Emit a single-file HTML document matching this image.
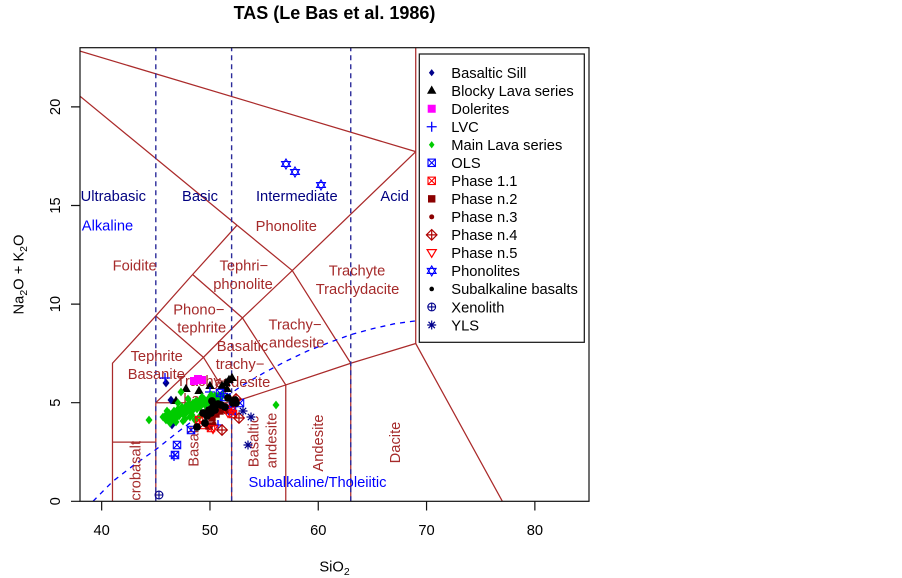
<!DOCTYPE html>
<html><head><meta charset="utf-8"><style>
html,body{margin:0;padding:0;background:#fff;}
svg{display:block;}
text{font-family:"Liberation Sans",Arial,sans-serif;}
</style></head><body>
<svg width="902" height="578" viewBox="0 0 902 578" xmlns="http://www.w3.org/2000/svg">
<defs>
<clipPath id="pc"><rect x="80" y="47.7" width="509" height="453.6"/></clipPath>
<g id="bs"><polygon points="0,-4.4 3.5,0 0,4.4 -3.5,0" fill="#00008b"/></g>
<g id="bsl"><polygon points="0,-3.6 2.8,0 0,3.6 -2.8,0" fill="#00008b"/></g>
<g id="tri"><polygon points="0,-5.2 4.7,3 -4.7,3" fill="#000"/></g>
<g id="dol"><rect x="-4" y="-4" width="8" height="8" fill="#ff00ff"/></g>
<g id="lvc" stroke="#0000ff" stroke-width="1.3" fill="none"><path d="M-5,0H5M0,-5V5"/></g>
<g id="ml"><polygon points="0,-4.4 3.5,0 0,4.4 -3.5,0" fill="#00cc00"/></g>
<g id="mll"><polygon points="0,-3.6 2.8,0 0,3.6 -2.8,0" fill="#00cc00"/></g>
<g id="ols" stroke="#0000ff" stroke-width="1.1" fill="none"><rect x="-3.7" y="-3.7" width="7.4" height="7.4"/><path d="M-3.7,-3.7L3.7,3.7M-3.7,3.7L3.7,-3.7"/></g>
<g id="p11" stroke="#ff0000" stroke-width="1.1" fill="none"><rect x="-3.7" y="-3.7" width="7.4" height="7.4"/><path d="M-3.7,-3.7L3.7,3.7M-3.7,3.7L3.7,-3.7"/></g>
<g id="p2"><rect x="-3.7" y="-3.7" width="7.4" height="7.4" fill="#8b0000"/></g>
<g id="p3"><circle r="2.5" fill="#8b0000"/></g>
<g id="p4" stroke="#b00000" stroke-width="1.2" fill="none"><polygon points="0,-5.3 5.3,0 0,5.3 -5.3,0"/><path d="M-5.3,0H5.3M0,-5.3V5.3"/></g>
<g id="p5" stroke="#ff0000" stroke-width="1.2" fill="none"><polygon points="0,4.4 -4.6,-3.3 4.6,-3.3"/></g>
<g id="phon" stroke="#0000ff" stroke-width="1.1" fill="none"><polygon points="0,-5 4.4,2.5 -4.4,2.5"/><polygon points="0,5 4.4,-2.5 -4.4,-2.5"/></g>
<g id="sub"><circle r="3.9" fill="#000"/></g>
<g id="subl"><circle r="2.3" fill="#000"/></g>
<g id="xen" stroke="#00008b" stroke-width="1.1" fill="none"><circle r="3.9"/><path d="M-3.9,0H3.9M0,-3.9V3.9"/></g>
<g id="yls" stroke="#00008b" stroke-width="1.2" fill="none"><path d="M-4.5,0H4.5M0,-4.5V4.5M-3.2,-3.2L3.2,3.2M-3.2,3.2L3.2,-3.2"/></g>
</defs>

<rect width="902" height="578" fill="#fff"/>

<text x="334.5" y="19" font-size="18" font-weight="bold" text-anchor="middle" fill="#000">TAS (Le Bas et al. 1986)</text>

<g clip-path="url(#pc)">
<g stroke="#aa2a2a" stroke-width="1.25" fill="none">
<path d="M112.49,501.3V363.26L155.81,315.93L192.63,274.52L237.04,225.22"/>
<path d="M112.49,442.14H155.81"/>
<path d="M155.81,501.3V402.7H231.62V501.3"/>
<path d="M155.81,402.7L203.46,357.34L231.62,402.7"/>
<path d="M155.81,315.93L203.46,357.34L242.45,317.9L285.77,384.95"/>
<path d="M231.62,402.7L285.77,384.95L350.75,363.26L415.73,343.54L502.37,501.3"/>
<path d="M285.77,384.95V501.3"/>
<path d="M350.75,363.26V501.3"/>
<path d="M192.63,274.52L242.45,317.9L292.27,270.58L350.75,363.26"/>
<path d="M237.04,225.22L292.27,270.58L415.73,151.66"/>
<path d="M80,96.25L237.04,225.22"/>
<path d="M80,51.1L415.73,151.66"/>
<path d="M415.73,47.7V343.54"/>
</g>

<g stroke="#2b2b9a" stroke-width="1.4" stroke-dasharray="5,4" fill="none">
<path d="M155.81,501.3V47.7"/>
<path d="M231.62,501.3V47.7"/>
<path d="M350.75,501.3V47.7"/>
</g>

<polyline fill="none" stroke="#0000ff" stroke-width="1.3" stroke-dasharray="5,5"
points="93,501.3 112.49,481.6 134.15,464.82 155.81,449.63 177.47,432.28 199.13,415.91 220.79,400.33 242.45,385.35 264.11,372.73 285.77,361.29 307.43,351.03 329.09,342.55 350.75,334.67 372.41,328.75 394.07,323.82 415.73,320.86 437.39,318.3"/>

<g font-size="14.7" fill="#a52a2a" text-anchor="middle">
<text x="134.7" y="270.7">Foidite</text>
<text x="286.3" y="231">Phonolite</text>
<text x="243.8" y="270.7">Tephri−</text>
<text x="243" y="288.8">phonolite</text>
<text x="357" y="275.5">Trachyte</text>
<text x="357.5" y="293.8">Trachydacite</text>
<text x="295" y="329.5">Trachy−</text>
<text x="296.7" y="347.3">andesite</text>
<text x="198.8" y="314.5">Phono−</text>
<text x="201.7" y="332.3">tephrite</text>
<text x="242.5" y="351.2">Basaltic</text>
<text x="240" y="369.2">trachy−</text>
<text x="242.5" y="387.2">andesite</text>
<text x="156.7" y="361.2">Tephrite</text>
<text x="156.3" y="379.2">Basanite</text>
<text x="203" y="386">Trachy−</text>
<text x="203" y="404">basalt</text>
<text transform="translate(140.5,477.3) rotate(-90)">Picrobasalt</text>
<text transform="translate(198.5,446.3) rotate(-90)">Basalt</text>
<text transform="translate(258.5,441.5) rotate(-90)">Basaltic</text>
<text transform="translate(276.5,440.5) rotate(-90)">andesite</text>
<text transform="translate(323,443) rotate(-90)">Andesite</text>
<text transform="translate(400,442.5) rotate(-90)">Dacite</text>
</g>
<g font-size="14.7" fill="#000080" text-anchor="middle">
<text x="113.3" y="201">Ultrabasic</text>
<text x="200" y="201">Basic</text>
<text x="296.8" y="201">Intermediate</text>
<text x="394.7" y="201">Acid</text>
</g>
<g font-size="14.7" fill="#0000ff">
<text x="107.5" y="230.7" text-anchor="middle">Alkaline</text>
<text x="248.5" y="487">Subalkaline/Tholeiitic</text>
</g>

<use href="#bs" x="166" y="383"/><use href="#bs" x="171" y="400"/><use href="#bs" x="172" y="425"/>

<use href="#tri" x="176" y="401"/><use href="#tri" x="186" y="389"/><use href="#tri" x="199" y="391"/>
<use href="#tri" x="210" y="386"/><use href="#tri" x="222" y="386"/><use href="#tri" x="226" y="383"/>
<use href="#tri" x="229" y="380"/><use href="#tri" x="232" y="378"/><use href="#tri" x="227" y="389"/>

<use href="#dol" x="194" y="381"/><use href="#dol" x="198" y="379"/><use href="#dol" x="202" y="380"/>

<use href="#lvc" x="165" y="378"/><use href="#lvc" x="174" y="456"/><use href="#lvc" x="210" y="392"/>
<use href="#lvc" x="218" y="425"/><use href="#lvc" x="230" y="398"/>

<use href="#ml" x="149" y="420"/><use href="#ml" x="181" y="392"/><use href="#ml" x="276" y="405"/>
<use href="#ml" x="163" y="417"/><use href="#ml" x="166" y="415"/><use href="#ml" x="166" y="420"/>
<use href="#ml" x="169" y="413"/><use href="#ml" x="169" y="418"/><use href="#ml" x="171" y="416"/>
<use href="#ml" x="172" y="420"/><use href="#ml" x="174" y="411"/><use href="#ml" x="174" y="415"/>
<use href="#ml" x="176" y="418"/><use href="#ml" x="177" y="413"/><use href="#ml" x="178" y="409"/>
<use href="#ml" x="179" y="416"/><use href="#ml" x="181" y="411"/><use href="#ml" x="182" y="407"/>
<use href="#ml" x="183" y="414"/><use href="#ml" x="184" y="410"/><use href="#ml" x="186" y="406"/>
<use href="#ml" x="186" y="413"/><use href="#ml" x="188" y="409"/><use href="#ml" x="189" y="404"/>
<use href="#ml" x="190" y="412"/><use href="#ml" x="191" y="407"/><use href="#ml" x="193" y="403"/>
<use href="#ml" x="193" y="410"/><use href="#ml" x="195" y="406"/><use href="#ml" x="196" y="401"/>
<use href="#ml" x="197" y="409"/><use href="#ml" x="198" y="404"/><use href="#ml" x="200" y="400"/>
<use href="#ml" x="200" y="407"/><use href="#ml" x="202" y="403"/><use href="#ml" x="204" y="399"/>
<use href="#ml" x="205" y="405"/><use href="#ml" x="207" y="401"/><use href="#ml" x="209" y="398"/>
<use href="#ml" x="210" y="404"/><use href="#ml" x="212" y="400"/><use href="#ml" x="214" y="397"/>
<use href="#ml" x="216" y="401"/><use href="#ml" x="218" y="396"/><use href="#ml" x="220" y="399"/>
<use href="#ml" x="222" y="395"/><use href="#ml" x="211" y="395"/><use href="#ml" x="185" y="419"/>
<use href="#ml" x="190" y="417"/><use href="#ml" x="195" y="420"/><use href="#ml" x="200" y="416"/>
<use href="#ml" x="176" y="422"/><use href="#ml" x="170" y="423"/><use href="#ml" x="180" y="410"/>
<use href="#ml" x="205" y="412"/><use href="#ml" x="215" y="396"/><use href="#ml" x="178" y="403"/>
<use href="#ml" x="188" y="399"/><use href="#ml" x="183" y="421"/><use href="#ml" x="192" y="415"/>
<use href="#ml" x="167" y="411"/><use href="#ml" x="202" y="397"/>

<use href="#ols" x="177" y="445"/><use href="#ols" x="175" y="455"/><use href="#ols" x="191" y="430"/>
<use href="#ols" x="220" y="393"/><use href="#ols" x="233" y="403"/><use href="#ols" x="240" y="403"/>
<use href="#ols" x="232" y="411"/><use href="#ols" x="224" y="397"/>

<use href="#p11" x="199" y="420"/><use href="#p11" x="211" y="428"/><use href="#p11" x="231" y="409"/>
<use href="#p11" x="233" y="414"/><use href="#p11" x="203" y="425"/>

<use href="#p2" x="220" y="411"/><use href="#p2" x="224" y="409"/><use href="#p2" x="212" y="418"/>
<use href="#p2" x="209" y="426"/><use href="#p2" x="216" y="414"/>

<use href="#p3" x="214" y="424"/><use href="#p3" x="226" y="412"/>

<use href="#p4" x="222" y="430"/><use href="#p4" x="239" y="418"/><use href="#p4" x="236" y="399"/>

<use href="#p5" x="213" y="429"/><use href="#p5" x="228" y="413"/>

<use href="#phon" x="286" y="164"/><use href="#phon" x="295" y="172"/><use href="#phon" x="321" y="185"/>

<use href="#sub" x="197" y="427"/><use href="#sub" x="205" y="423"/><use href="#sub" x="207" y="416"/>
<use href="#sub" x="209" y="410"/><use href="#sub" x="213" y="407"/><use href="#sub" x="218" y="404"/>
<use href="#sub" x="211" y="413"/><use href="#sub" x="225" y="407"/><use href="#sub" x="233" y="403"/>
<use href="#sub" x="236" y="403"/><use href="#sub" x="228" y="398"/><use href="#sub" x="203" y="413"/>
<use href="#sub" x="215" y="410"/><use href="#sub" x="221" y="405"/><use href="#sub" x="212" y="401"/>
<use href="#sub" x="235" y="400"/>

<use href="#xen" x="159" y="495"/>

<use href="#yls" x="243" y="411"/><use href="#yls" x="251" y="417"/><use href="#yls" x="248" y="445"/>
</g>

<rect x="80" y="47.7" width="509" height="453.6" fill="none" stroke="#111" stroke-width="1.2"/>

<g stroke="#111" stroke-width="1.2">
<path d="M71,501.3H80M71,402.7H80M71,304.1H80M71,205.5H80M71,106.9H80"/>
<path d="M101.66,501.3V510.5M209.96,501.3V510.5M318.26,501.3V510.5M426.56,501.3V510.5M534.86,501.3V510.5"/>
</g>
<g font-size="14.7" fill="#000" text-anchor="middle">
<text x="101.66" y="535">40</text>
<text x="209.96" y="535">50</text>
<text x="318.26" y="535">60</text>
<text x="426.56" y="535">70</text>
<text x="534.86" y="535">80</text>
<text transform="translate(60,501.3) rotate(-90)">0</text>
<text transform="translate(60,402.7) rotate(-90)">5</text>
<text transform="translate(60,304.1) rotate(-90)">10</text>
<text transform="translate(60,205.5) rotate(-90)">15</text>
<text transform="translate(60,106.9) rotate(-90)">20</text>
<text x="334.5" y="571.5">SiO<tspan font-size="10.5" dy="3.5">2</tspan></text>
<text transform="translate(23.5,274.5) rotate(-90)">Na<tspan font-size="10.5" dy="3.5">2</tspan><tspan dy="-3.5">O + K</tspan><tspan font-size="10.5" dy="3.5">2</tspan><tspan dy="-3.5">O</tspan></text>
</g>

<rect x="419.3" y="54" width="165" height="288.3" fill="#fff" stroke="#111" stroke-width="1.2"/>
<use href="#bsl" x="431.7" y="72.7"/>
<use href="#tri" x="431.7" y="90.72"/>
<use href="#dol" x="431.7" y="108.74"/>
<use href="#lvc" x="431.7" y="126.76"/>
<use href="#mll" x="431.7" y="144.78"/>
<use href="#ols" x="431.7" y="162.8"/>
<use href="#p11" x="431.7" y="180.82"/>
<use href="#p2" x="431.7" y="198.84"/>
<use href="#p3" x="431.7" y="216.86"/>
<use href="#p4" x="431.7" y="234.88"/>
<use href="#p5" x="431.7" y="252.9"/>
<use href="#phon" x="431.7" y="270.92"/>
<use href="#subl" x="431.7" y="288.94"/>
<use href="#xen" x="431.7" y="306.96"/>
<use href="#yls" x="431.7" y="324.98"/>
<g font-size="14.7" fill="#000">
<text x="451.3" y="78">Basaltic Sill</text>
<text x="451.3" y="96.02">Blocky Lava series</text>
<text x="451.3" y="114.04">Dolerites</text>
<text x="451.3" y="132.06">LVC</text>
<text x="451.3" y="150.08">Main Lava series</text>
<text x="451.3" y="168.1">OLS</text>
<text x="451.3" y="186.12">Phase 1.1</text>
<text x="451.3" y="204.14">Phase n.2</text>
<text x="451.3" y="222.16">Phase n.3</text>
<text x="451.3" y="240.18">Phase n.4</text>
<text x="451.3" y="258.2">Phase n.5</text>
<text x="451.3" y="276.22">Phonolites</text>
<text x="451.3" y="294.24">Subalkaline basalts</text>
<text x="451.3" y="312.26">Xenolith</text>
<text x="451.3" y="330.28">YLS</text>
</g>
</svg>
</body></html>
